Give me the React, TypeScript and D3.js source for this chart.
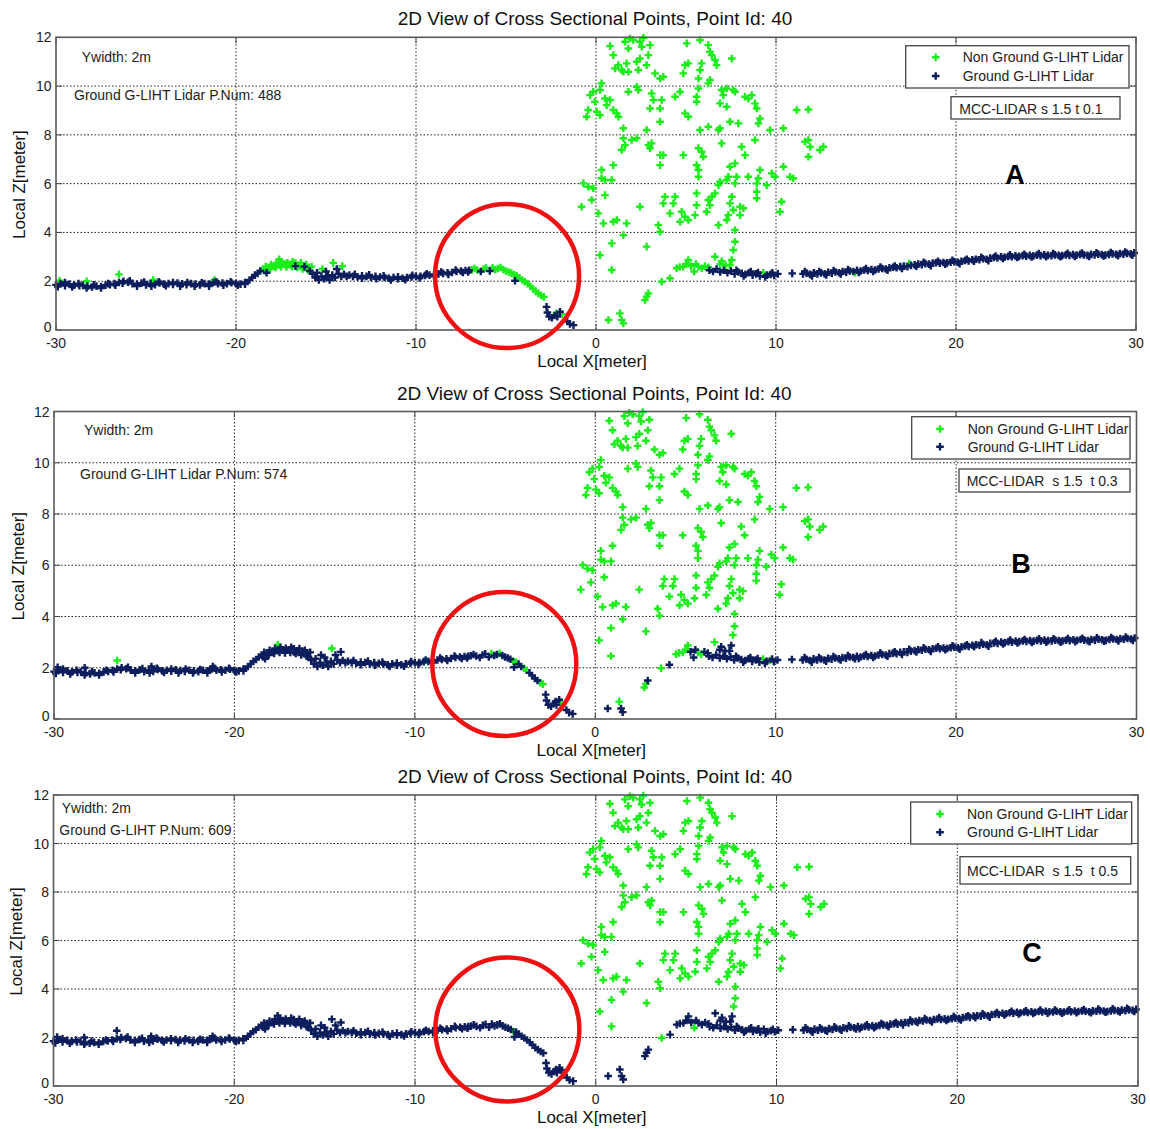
import React from 'react';
import * as d3 from 'd3';

// ---- axis ticks ----
const xTicks = [-30, -20, -10, 0, 10, 20, 30];
const zTicks = [0, 2, 4, 6, 8, 10, 12];

// ---- ground band: classified as ground by all three runs [x, z] ----
const groundBand: [number, number][] = [
  [-30, 1.85], [-29.75, 1.9], [-29.5, 1.82], [-29.25, 1.88], [-29, 1.84], [-28.75, 1.9], [-28.5, 1.83], [-28.25, 1.8],
  [-28, 1.76], [-27.75, 1.8], [-27.5, 1.78], [-27.25, 1.84], [-27, 1.86], [-26.75, 1.9], [-26.5, 1.95], [-26.25, 2.0],
  [-26, 1.96], [-25.75, 1.9], [-25.5, 1.88], [-25.25, 1.92], [-25, 1.85], [-24.75, 1.9], [-24.5, 1.86], [-24.25, 1.93],
  [-24, 1.88], [-23.75, 1.9], [-23.5, 1.87], [-23.25, 1.92], [-23, 1.89], [-22.75, 1.86], [-22.5, 1.9], [-22.25, 1.88],
  [-22, 1.85], [-21.75, 1.9], [-21.5, 1.88], [-21.25, 1.95], [-21, 1.9], [-20.75, 1.92], [-20.5, 1.9], [-20.25, 1.94],
  [-20, 1.9], [-19.75, 1.88], [-19.5, 1.95], [-19.25, 2.05],
  [-19.1, 2.15], [-18.95, 2.25], [-18.8, 2.32], [-18.65, 2.42], [-18.3, 2.35], [-16.7, 2.62], [-16.2, 2.6],
  [-15.9, 2.42], [-15.75, 2.3], [-15.6, 2.15], [-15.5, 2.35], [-15.4, 2.05], [-15.25, 2.2], [-15.1, 2.1], [-15.0, 2.4],
  [-14.9, 2.2], [-14.8, 2.05], [-14.65, 2.25], [-14.5, 2.15], [-14.4, 2.5], [-14.3, 2.3], [-14.15, 2.2], [-14, 2.28],
  [-13.85, 2.2], [-13.7, 2.25],
  [-13.5, 2.2], [-13.25, 2.18], [-13, 2.22], [-12.75, 2.2], [-12.5, 2.15], [-12.25, 2.2], [-12, 2.17], [-11.75, 2.15],
  [-11.5, 2.12], [-11.25, 2.15], [-11, 2.1], [-10.75, 2.12], [-10.5, 2.15], [-10.25, 2.17], [-10, 2.2], [-9.75, 2.2],
  [-9.5, 2.24], [-9.25, 2.25], [-9, 2.28], [-8.75, 2.3], [-8.5, 2.32], [-8.25, 2.35], [-8, 2.36], [-7.75, 2.4],
  [-7.5, 2.42], [-7.25, 2.44], [-7.05, 2.45],
  [-6.4, 2.4], [-5.9, 2.42], [-4.5, 2.02],
  [-2.75, 0.95], [-2.7, 0.72], [-2.6, 0.55], [-2.45, 0.5], [-2.3, 0.6], [-2.15, 0.55], [-2.0, 0.75],
  [-1.6, 0.35], [-1.45, 0.25], [-1.25, 0.2],
  [6.3, 2.45], [6.5, 2.4], [6.7, 2.5], [6.9, 2.38], [7.1, 2.45], [7.3, 2.35], [7.5, 2.42], [7.7, 2.3],
  [7.9, 2.38], [8.1, 2.32], [8.3, 2.28], [8.5, 2.35], [8.7, 2.25], [8.9, 2.3], [9.1, 2.22], [9.5, 2.25],
  [9.9, 2.24], [10.1, 2.3], [10.9, 2.32],
  [11.5, 2.3], [11.7, 2.33], [11.9, 2.28], [12.1, 2.35], [12.3, 2.3], [12.5, 2.34], [12.7, 2.3], [12.9, 2.37],
  [13.1, 2.33], [13.3, 2.38], [13.5, 2.35], [13.7, 2.4], [13.9, 2.37], [14.1, 2.42], [14.3, 2.4], [14.5, 2.45],
  [14.7, 2.42], [14.9, 2.46], [15.1, 2.44], [15.3, 2.48], [15.5, 2.46], [15.7, 2.5], [15.9, 2.52], [16.1, 2.5],
  [16.3, 2.55], [16.5, 2.57], [16.7, 2.55], [16.9, 2.6], [17.1, 2.62], [17.3, 2.6], [17.5, 2.65], [17.7, 2.67],
  [17.9, 2.7], [18.1, 2.68], [18.3, 2.72], [18.5, 2.7], [18.7, 2.74], [18.9, 2.76], [19.1, 2.74], [19.3, 2.77],
  [19.5, 2.75], [19.7, 2.78], [19.9, 2.8], [20.1, 2.78], [20.3, 2.82], [20.5, 2.85], [20.7, 2.83], [20.9, 2.88],
  [21.1, 2.9], [21.3, 2.88], [21.5, 2.92], [21.7, 2.9], [21.9, 2.95], [22.1, 2.97], [22.3, 2.95], [22.5, 3.0],
  [22.7, 2.98], [22.9, 3.02], [23.1, 3.0], [23.3, 3.04], [23.5, 3.02], [23.7, 3.05], [23.9, 3.03], [24.1, 3.06],
  [24.3, 3.04], [24.5, 3.07], [24.7, 3.05], [24.9, 3.08], [25.1, 3.06], [25.3, 3.05], [25.5, 3.08], [25.7, 3.06],
  [25.9, 3.05], [26.1, 3.08], [26.3, 3.06], [26.5, 3.09], [26.7, 3.07], [26.9, 3.1], [27.1, 3.08], [27.3, 3.06],
  [27.5, 3.1], [27.7, 3.08], [27.9, 3.11], [28.1, 3.09], [28.3, 3.07], [28.5, 3.1], [28.7, 3.12], [28.9, 3.1],
  [29.1, 3.13], [29.3, 3.11], [29.5, 3.14], [29.7, 3.12], [29.9, 3.16],
];

// ---- upper and lower edge returns of the same ground band [x, z] ----
const groundBandEdge: [number, number][] = [
  [-29.9, 1.78], [-29.5, 1.95], [-29.1, 1.76], [-28.7, 1.82], [-28.3, 1.72], [-27.9, 1.85], [-27.5, 1.72], [-27.1, 1.9],
  [-26.7, 1.84], [-26.3, 1.92], [-25.9, 2.02], [-25.5, 1.8], [-25.1, 1.97], [-24.7, 1.8], [-24.3, 1.98], [-23.9, 1.82],
  [-23.5, 1.95], [-23.1, 1.8], [-22.7, 1.95], [-22.3, 1.8], [-21.9, 1.93], [-21.5, 1.8], [-21.1, 1.98], [-20.7, 1.84],
  [-20.3, 1.98], [-19.9, 1.84], [-19.5, 1.88],
  [-13.4, 2.28], [-13, 2.12], [-12.6, 2.26], [-12.2, 2.1], [-11.8, 2.22], [-11.4, 2.05], [-11, 2.18], [-10.6, 2.06],
  [-10.2, 2.24], [-9.8, 2.13], [-9.4, 2.3], [-9, 2.2], [-8.6, 2.38], [-8.2, 2.28], [-7.8, 2.46], [-7.4, 2.36],
  [-7.1, 2.38],
  [7.8, 2.45], [8.2, 2.22], [8.6, 2.4], [9.0, 2.36], [9.4, 2.18], [9.8, 2.34],
  [11.6, 2.4], [12.0, 2.22], [12.4, 2.4], [12.8, 2.26], [13.2, 2.44], [13.6, 2.3], [14.0, 2.48], [14.6, 2.36],
  [15.0, 2.52], [15.4, 2.4], [15.8, 2.58], [16.2, 2.45], [16.6, 2.62], [17.0, 2.52], [17.8, 2.62], [18.2, 2.78],
  [18.6, 2.64], [19.0, 2.82], [19.4, 2.7], [19.8, 2.86], [20.2, 2.72], [20.6, 2.9], [21.0, 2.82], [21.4, 2.98],
  [21.8, 2.84], [22.2, 3.03], [22.6, 2.93], [23.0, 3.08], [23.4, 2.97], [23.8, 3.1], [24.2, 2.99], [24.6, 3.13],
  [25.0, 3.0], [25.4, 3.13], [25.8, 3.0], [26.2, 3.14], [26.6, 3.02], [27.0, 3.15], [27.4, 3.02], [27.8, 3.17],
  [28.2, 3.04], [28.6, 3.18], [29.0, 3.05], [29.4, 3.2], [29.8, 3.07],
];

// ---- tree crown returns: non-ground in all three runs [x, z] ----
const canopy: [number, number][] = [
  [0.78, 11.64], [1.61, 11.82], [1.89, 11.95], [2.07, 11.89], [1.8, 11.54], [2.44, 11.82], [2.63, 11.98], [2.54, 11.61],
  [3.0, 11.68], [2.91, 11.27], [0.96, 11.27], [1.06, 10.72], [1.24, 10.86], [1.43, 10.66], [1.7, 10.93], [1.8, 10.59],
  [1.52, 10.59], [2.26, 11.0], [2.35, 10.66], [2.81, 10.86], [2.44, 11.13], [5.04, 11.75], [4.94, 10.86], [5.13, 10.93],
  [4.85, 10.52], [3.28, 10.52], [3.56, 10.31], [3.74, 10.38],
  [0.31, 10.11], [0.22, 9.84], [-0.15, 9.77], [-0.33, 9.63], [-0.06, 9.36], [-0.52, 8.74], [-0.43, 9.02], [0.04, 8.95],
  [0.22, 8.81], [0.5, 9.49], [0.59, 9.22], [0.78, 9.43], [0.96, 9.02], [1.15, 8.88], [1.24, 8.74], [1.8, 9.77],
  [2.26, 9.97], [2.35, 9.84], [3.09, 9.7], [3.19, 9.43], [3.0, 9.08], [3.56, 9.08], [3.65, 9.43], [3.56, 8.54],
  [4.39, 9.56], [4.67, 9.77], [4.94, 8.88], [5.13, 8.74],
  [1.52, 8.27], [1.52, 7.86], [1.98, 7.79], [2.26, 7.86], [1.61, 7.58], [1.43, 7.38], [2.81, 8.2], [2.91, 7.58],
  [3.09, 7.65], [3.0, 7.45], [3.56, 7.17], [3.74, 7.17], [3.56, 6.76], [4.85, 7.17],
  [0.31, 6.56], [0.31, 6.22], [0.96, 6.76], [0.5, 6.15], [0.87, 6.15], [-0.7, 6.01], [-0.43, 5.87], [-0.15, 5.81],
  [-0.24, 5.33], [-0.8, 5.05], [0.5, 5.53], [3.83, 5.46], [3.74, 5.19], [4.39, 5.46], [4.3, 5.19], [4.11, 4.78],
  [4.76, 4.85], [4.94, 4.64], [4.67, 4.44], [5.13, 4.51], [2.44, 5.05],
  [0.13, 4.78], [0.41, 4.37], [0.96, 4.44], [1.15, 4.51], [1.7, 4.37], [1.52, 3.89], [0.87, 3.55], [0.22, 3.07],
  [3.46, 4.3], [3.56, 4.03], [2.81, 3.42], [0.87, 2.46], [3.65, 1.98],
  [5.78, 11.89], [6.24, 11.68], [6.33, 11.41], [6.43, 11.27], [6.61, 11.07], [6.7, 10.86], [7.54, 11.13], [5.87, 10.93],
  [5.78, 10.66], [5.69, 10.31], [6.33, 10.25], [6.24, 10.11],
  [5.69, 9.9], [5.59, 9.56], [5.59, 9.36], [6.98, 9.84], [7.26, 9.9], [7.63, 9.84], [7.72, 9.77], [7.07, 9.63],
  [6.89, 9.29], [7.26, 9.15], [8.28, 9.56], [8.46, 9.49], [8.65, 9.63], [8.83, 9.29], [8.93, 9.08], [11.15, 9.02],
  [11.8, 9.04],
  [5.78, 8.2], [6.24, 8.33], [6.8, 8.2], [6.89, 8.27], [7.44, 8.54], [7.91, 8.47], [9.11, 8.67], [9.02, 8.47],
  [9.67, 8.2], [10.41, 8.27], [6.98, 7.65], [8.83, 7.79], [11.61, 7.72], [11.8, 7.79], [11.89, 7.51], [12.63, 7.51],
  [12.44, 7.38], [11.8, 7.1],
  [5.69, 7.45], [5.87, 7.31], [5.96, 7.1], [5.59, 6.76], [5.69, 6.56], [5.69, 6.28], [8.09, 7.51], [8.28, 7.17],
  [7.72, 6.83], [7.44, 6.69], [7.35, 6.28], [7.26, 6.15], [6.89, 6.08], [6.8, 5.94], [7.81, 6.28], [7.72, 6.01],
  [8.46, 6.28], [9.02, 6.22], [9.11, 6.56], [8.93, 6.01], [8.93, 5.67], [8.93, 5.4], [9.48, 5.94], [9.76, 6.42],
  [9.94, 6.28], [10.41, 6.69], [10.78, 6.28], [10.96, 6.22],
  [5.59, 5.6], [5.59, 5.12], [5.5, 4.71], [6.24, 5.33], [6.43, 5.46], [6.61, 5.6], [6.33, 5.12], [6.15, 4.85],
  [7.54, 5.46], [7.44, 5.19], [7.63, 4.92], [7.35, 4.71], [7.26, 4.51], [8.0, 5.05], [8.19, 4.99], [8.0, 4.71],
  [10.31, 5.26], [10.22, 4.85], [6.8, 4.3], [7.72, 4.1], [7.72, 3.62], [7.63, 3.28],
];

// ---- returns whose class depends on the threshold: [x, z, groundA, groundB, groundC] ----
const thresholdDependent: [number, number, number, number, number][] = [
  [-29.8, 2.02, 0, 1, 1], [-28.3, 2.0, 0, 1, 1], [-26.5, 2.28, 0, 0, 1], [-24.6, 2.05, 0, 1, 1], [-21.2, 2.05, 0, 1, 1],
  [-18.5, 2.5, 0, 1, 1], [-18.35, 2.6, 0, 1, 1], [-18.2, 2.55, 0, 1, 1], [-18.05, 2.68, 0, 1, 1], [-17.9, 2.62, 0, 1, 1],
  [-17.75, 2.75, 0, 1, 1], [-17.6, 2.68, 0, 1, 1], [-17.45, 2.8, 0, 1, 1], [-17.3, 2.7, 0, 1, 1], [-17.15, 2.76, 0, 1, 1],
  [-17.0, 2.68, 0, 1, 1], [-16.85, 2.8, 0, 1, 1], [-16.7, 2.74, 0, 1, 1], [-16.55, 2.66, 0, 1, 1], [-16.4, 2.75, 0, 1, 1],
  [-16.25, 2.62, 0, 1, 1], [-16.1, 2.68, 0, 1, 1], [-15.95, 2.55, 0, 1, 1], [-15.8, 2.6, 0, 1, 1],
  [-18.4, 2.42, 0, 1, 1], [-18.1, 2.5, 0, 1, 1], [-17.8, 2.56, 0, 1, 1], [-17.5, 2.6, 0, 1, 1], [-17.2, 2.58, 0, 1, 1],
  [-16.9, 2.6, 0, 1, 1], [-16.6, 2.56, 0, 1, 1], [-16.3, 2.5, 0, 1, 1], [-16.0, 2.45, 0, 1, 1],
  [-17.6, 2.9, 0, 0, 1], [-15.2, 2.5, 0, 1, 1], [-14.6, 2.75, 0, 0, 1], [-14.1, 2.62, 0, 1, 1],
  [-6.9, 2.47, 0, 1, 1], [-6.75, 2.52, 0, 1, 1], [-6.6, 2.46, 0, 1, 1], [-6.25, 2.5, 0, 1, 1], [-6.1, 2.54, 0, 1, 1],
  [-5.75, 2.55, 0, 0, 1], [-5.6, 2.48, 0, 1, 1], [-5.45, 2.52, 0, 1, 1], [-5.3, 2.56, 0, 0, 1], [-5.15, 2.48, 0, 1, 1],
  [-5.0, 2.42, 0, 1, 1], [-4.85, 2.38, 0, 1, 1], [-4.7, 2.33, 0, 1, 1], [-4.55, 2.26, 0, 0, 0], [-4.4, 2.22, 0, 0, 1],
  [-4.25, 2.14, 0, 1, 1], [-4.1, 2.05, 0, 1, 1], [-3.95, 1.98, 0, 0, 1], [-3.8, 1.9, 0, 0, 1], [-3.65, 1.8, 0, 1, 1],
  [-3.5, 1.7, 0, 1, 1], [-3.35, 1.58, 0, 1, 1], [-3.2, 1.5, 0, 1, 1], [-3.05, 1.42, 0, 0, 1], [-2.9, 1.36, 0, 0, 1],
  [-2.2, 0.68, 0, 1, 1], [-1.9, 0.65, 0, 0, 1],
  [0.69, 0.41, 0, 1, 1], [1.33, 0.68, 0, 0, 1], [1.43, 0.41, 0, 1, 1], [1.52, 0.27, 0, 1, 1], [2.72, 1.23, 0, 0, 1],
  [2.81, 1.37, 0, 0, 1], [2.91, 1.5, 0, 1, 1], [4.11, 2.12, 0, 1, 1],
  [4.48, 2.53, 0, 0, 1], [4.65, 2.58, 0, 0, 1], [4.85, 2.6, 0, 0, 1], [5.0, 2.7, 0, 0, 1], [5.13, 2.87, 0, 0, 1],
  [5.28, 2.62, 0, 1, 1], [5.45, 2.4, 0, 1, 0], [5.55, 2.7, 0, 1, 1], [5.69, 2.6, 0, 0, 1], [5.87, 2.53, 0, 0, 1],
  [6.05, 2.62, 0, 1, 1], [6.24, 2.57, 0, 1, 1], [6.61, 3.0, 0, 0, 1], [6.9, 2.7, 0, 1, 1], [6.98, 2.82, 0, 1, 1],
  [7.2, 2.65, 0, 1, 1], [7.44, 2.66, 0, 1, 1], [7.54, 2.87, 0, 1, 1],
  [9.3, 2.34, 0, 0, 1], [9.7, 2.28, 1, 0, 1], [14.4, 2.35, 0, 1, 1], [17.4, 2.72, 0, 1, 1],
];

// ---- labels ----
const chartTitle = '2D View of Cross Sectional Points, Point Id: 40';
const panelLetters = ['A', 'B', 'C'];
const mccLabels = ['MCC-LIDAR s 1.5 t 0.1', 'MCC-LIDAR  s 1.5  t 0.3', 'MCC-LIDAR  s 1.5  t 0.5'];
const groundCountLabels = [
  'Ground G-LIHT Lidar P.Num: 488',
  'Ground G-LIHT Lidar P.Num: 574',
  'Ground G-LIHT P.Num: 609',
];
const widthLabel = 'Ywidth: 2m';
const legendLabels = ['Non Ground G-LIHT Lidar', 'Ground G-LIHT Lidar'];
// centre of the highlighted slope, in data units [x, z]
const highlightCentres: [number, number][] = [[-4.94, 2.21], [-5.04, 2.15], [-4.89, 2.33]];

// ---- layout of each subplot ----
const layouts = [
  {
    left: 56, right: 1136, top: 37.3, bottom: 330, titleY: 24.5, yLabX: 25,
    info1: [81.7, 61.5], info2: [74, 100],
    legend: { x: 905.7, y: 45.7, w: 223.3, h: 42.3, mx: 935.7, tx: 962.7, r1: 57.3, r2: 76 },
    mcc: { x: 951, y: 96.7, w: 169, h: 22.3, tx: 959.3, ty: 114 },
    letter: [1015, 184],
  },
  {
    left: 54, right: 1136.5, top: 411.5, bottom: 719, titleY: 399.5, yLabX: 24,
    info1: [84, 435], info2: [80, 479],
    legend: { x: 911.7, y: 416.7, w: 218.3, h: 42.3, mx: 940, tx: 967.7, r1: 429, r2: 446.7 },
    mcc: { x: 959, y: 469, w: 171, h: 23, tx: 966.7, ty: 486 },
    letter: [1021, 573],
  },
  {
    left: 53.5, right: 1138, top: 795, bottom: 1086, titleY: 783, yLabX: 22,
    info1: [61.7, 812.5], info2: [59.3, 835],
    legend: { x: 910.7, y: 802, w: 221, h: 42, mx: 940, tx: 967, r1: 814, r2: 832.3 },
    mcc: { x: 960, y: 856.7, w: 170.7, h: 27.3, tx: 967, ty: 876 },
    letter: [1032, 961.5],
  },
];

const GREEN = '#19ee19';
const NAVY = '#0b1d5c';
const FONT = '"Liberation Sans", Arial, Helvetica, sans-serif';
const ARM = 3.8;
const MARK_W = 2.4;

function plusPath(pts: [number, number][], xs: (v: number) => number, ys: (v: number) => number) {
  return pts
    .map(([x, z]) => {
      const px = xs(x);
      const py = ys(z);
      return `M${(px - ARM).toFixed(2)},${py.toFixed(2)}h${2 * ARM}M${px.toFixed(2)},${(py - ARM).toFixed(2)}v${2 * ARM}`;
    })
    .join('');
}

function Panel({ idx }: { idx: number }) {
  const L = layouts[idx];
  const xs = d3.scaleLinear().domain([-30, 30]).range([L.left, L.right]);
  const ys = d3.scaleLinear().domain([0, 12]).range([L.bottom, L.top]);

  const ground: [number, number][] = [...groundBand, ...groundBandEdge];
  const nonGround: [number, number][] = [...canopy];
  thresholdDependent.forEach((p) => {
    const flag = p[2 + idx];
    if (flag === 1) ground.push([p[0], p[1]]);
    else nonGround.push([p[0], p[1]]);
  });

  const midX = (L.left + L.right) / 2;
  const midY = (L.top + L.bottom) / 2;
  const [hx, hz] = highlightCentres[idx];
  const lg = L.legend;
  const mc = L.mcc;

  return (
    <g>
      <text x={midX - 1} y={L.titleY} textAnchor="middle" fontSize={19} fill="#111" fontFamily={FONT}>
        {chartTitle}
      </text>
      <rect x={L.left} y={L.top} width={L.right - L.left} height={L.bottom - L.top} fill="#fff" />
      {/* dotted grid */}
      {xTicks.slice(1, -1).map((t) => (
        <line key={'gx' + t} x1={xs(t)} x2={xs(t)} y1={L.top} y2={L.bottom} stroke="#222" strokeWidth={1} strokeDasharray="1.5 2" />
      ))}
      {zTicks.slice(1, -1).map((t) => (
        <line key={'gz' + t} x1={L.left} x2={L.right} y1={ys(t)} y2={ys(t)} stroke="#222" strokeWidth={1} strokeDasharray="1.5 2" />
      ))}
      {/* inward ticks */}
      {xTicks.map((t) => (
        <g key={'tx' + t}>
          <line x1={xs(t)} x2={xs(t)} y1={L.bottom} y2={L.bottom - 6} stroke="#444" strokeWidth={1} />
          <line x1={xs(t)} x2={xs(t)} y1={L.top} y2={L.top + 6} stroke="#444" strokeWidth={1} />
        </g>
      ))}
      {zTicks.map((t) => (
        <g key={'tz' + t}>
          <line x1={L.left} x2={L.left + 6} y1={ys(t)} y2={ys(t)} stroke="#444" strokeWidth={1} />
          <line x1={L.right} x2={L.right - 6} y1={ys(t)} y2={ys(t)} stroke="#444" strokeWidth={1} />
        </g>
      ))}
      {/* points: non-ground first, ground drawn on top */}
      <path d={plusPath(nonGround, xs, ys)} stroke={GREEN} strokeWidth={MARK_W} fill="none" />
      <path d={plusPath(ground, xs, ys)} stroke={NAVY} strokeWidth={MARK_W} fill="none" />
      {/* frame */}
      <rect x={L.left} y={L.top} width={L.right - L.left} height={L.bottom - L.top} fill="none" stroke="#5a5a5a" strokeWidth={1.6} />
      {/* tick labels */}
      {xTicks.map((t) => (
        <text key={'lx' + t} x={xs(t)} y={L.bottom + 18} textAnchor="middle" fontSize={14} fill="#222" fontFamily={FONT}>
          {t}
        </text>
      ))}
      {zTicks.map((t) => (
        <text key={'lz' + t} x={L.left - 4.5} y={ys(t) + (t === 0 ? 2 : 5)} textAnchor="end" fontSize={14} fill="#222" fontFamily={FONT}>
          {t}
        </text>
      ))}
      <text x={midX - 4} y={L.bottom + 37} textAnchor="middle" fontSize={17} fill="#111" fontFamily={FONT}>
        Local X[meter]
      </text>
      <text
        transform={`translate(${L.yLabX},${midY + 1}) rotate(-90)`}
        textAnchor="middle"
        fontSize={17}
        fill="#111"
        fontFamily={FONT}
      >
        Local Z[meter]
      </text>
      {/* info text */}
      <text x={L.info1[0]} y={L.info1[1]} fontSize={14} fill="#222" fontFamily={FONT}>{widthLabel}</text>
      <text x={L.info2[0]} y={L.info2[1]} fontSize={14} fill="#222" fontFamily={FONT}>{groundCountLabels[idx]}</text>
      {/* legend */}
      <rect x={lg.x} y={lg.y} width={lg.w} height={lg.h} fill="#fff" stroke="#444" strokeWidth={1.3} />
      <path d={`M${lg.mx - ARM},${lg.r1}h${2 * ARM}M${lg.mx},${lg.r1 - ARM}v${2 * ARM}`} stroke={GREEN} strokeWidth={MARK_W} />
      <path d={`M${lg.mx - ARM},${lg.r2}h${2 * ARM}M${lg.mx},${lg.r2 - ARM}v${2 * ARM}`} stroke={NAVY} strokeWidth={MARK_W} />
      <text x={lg.tx} y={lg.r1 + 5} fontSize={14} fill="#222" fontFamily={FONT}>{legendLabels[0]}</text>
      <text x={lg.tx} y={lg.r2 + 5} fontSize={14} fill="#222" fontFamily={FONT}>{legendLabels[1]}</text>
      {/* run parameters */}
      <rect x={mc.x} y={mc.y} width={mc.w} height={mc.h} fill="#fff" stroke="#444" strokeWidth={1.3} />
      <text x={mc.tx} y={mc.ty} fontSize={14} fill="#222" fontFamily={FONT} style={{ whiteSpace: 'pre' }}>
        {mccLabels[idx]}
      </text>
      <text x={L.letter[0]} y={L.letter[1]} textAnchor="middle" fontSize={27} fontWeight="bold" fill="#000" fontFamily={FONT}>
        {panelLetters[idx]}
      </text>
      {/* highlighted slope */}
      <circle cx={xs(hx)} cy={ys(hz)} r={72} fill="none" stroke="#ee1111" strokeWidth={4.5} />
    </g>
  );
}

export default function App() {
  return (
    <svg
      width={1150}
      height={1129}
      viewBox="0 0 1150 1129"
      style={{ position: 'absolute', left: 0, top: 0, background: '#fff' }}
    >
      <rect x={0} y={0} width={1150} height={1129} fill="#fff" />
      {layouts.map((_, i) => (
        <Panel key={i} idx={i} />
      ))}
    </svg>
  );
}
